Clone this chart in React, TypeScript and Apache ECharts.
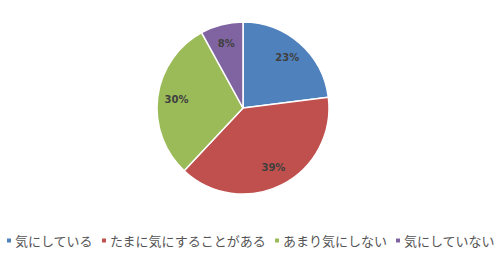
import React, { useEffect, useRef } from "react";
import * as echarts from "echarts";

const categories = ["気にしている", "たまに気にすることがある", "あまり気にしない", "気にしていない"];
const values = [23, 39, 30, 8];
const colors = ["#4F81BD", "#C0504D", "#9BBB59", "#8064A2"];

export default function App() {
  const ref = useRef<HTMLDivElement>(null);
  useEffect(() => {
    document.body.style.margin = "0";
    if (!ref.current) return;
    const chart = echarts.init(ref.current, undefined, { renderer: "svg" });
    const data = categories.map((name, i) => ({ name, value: values[i], itemStyle: { color: colors[i] } }));
    chart.setOption({
      animation: false,
      backgroundColor: "#ffffff",
      legend: {
        data: categories,
        bottom: 7,
        left: "center",
        padding: 0,
        icon: "rect",
        itemWidth: 6,
        itemHeight: 6,
        itemGap: 7,
        textStyle: { fontFamily: "Noto Sans CJK JP", fontSize: 13, color: "#555555", padding: [0, 0, 0, -2] },
        selectedMode: false,
      },
      series: [
        {
          type: "pie",
          center: [243, 108],
          radius: [0, 86],
          startAngle: 90,
          clockwise: true,
          data,
          itemStyle: { borderColor: "#ffffff", borderWidth: 1.5 },
          label: { show: false },
          labelLine: { show: false },
          emphasis: { disabled: true },
        },
        {
          type: "pie",
          center: [243, 108],
          radius: [0, 128],
          startAngle: 90,
          clockwise: true,
          silent: true,
          z: 3,
          data: categories.map((name, i) => ({ name, value: values[i], itemStyle: { color: "rgba(0,0,0,0)" } })),
          itemStyle: { borderWidth: 0 },
          label: {
            show: true,
            position: "inside",
            formatter: "{c}%",
            fontFamily: "DejaVu Sans",
            fontSize: 10,
            fontWeight: "bold",
            color: "#404040",
          },
          labelLine: { show: false },
          emphasis: { disabled: true },
        },
      ],
    });
    return () => chart.dispose();
  }, []);
  return <div ref={ref} style={{ width: 500, height: 254 }} />;
}
